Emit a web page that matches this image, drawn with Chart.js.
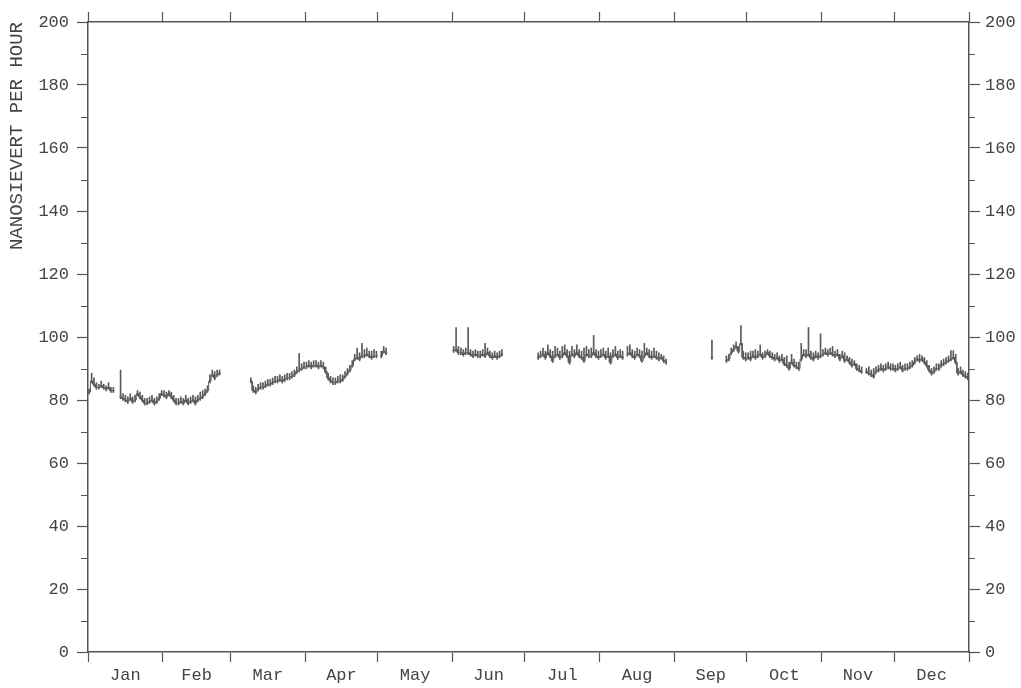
<!DOCTYPE html>
<html>
<head>
<meta charset="utf-8">
<script src="https://cdn.jsdelivr.net/npm/chart.js@4.4.1/dist/chart.umd.min.js"></script>
<style>
  html, body { margin: 0; padding: 0; background: #fff; }
</style>
</head>
<body>
<canvas id="grafico" width="1021" height="688"></canvas>
<script>
// month labels and month boundaries (day of year)
const monthNames = ['Jan', 'Feb', 'Mar', 'Apr', 'May', 'Jun', 'Jul', 'Aug', 'Sep', 'Oct', 'Nov', 'Dec'];
const monthStarts = [0, 31, 59, 90, 120, 151, 181, 212, 243, 273, 304, 334, 365];
const yTicks = [0, 20, 40, 60, 80, 100, 120, 140, 160, 180, 200];

// daily level (nSv/h), null = no data
const janLevel = [82.5, 86, 85, 84, 84, 84.5, 84, 83.5, 84, 83, 83, null, null, 81, 80.5, 80, 79.5, 80.5, 79.5, 80, 82, 81, 80, 79, 79, 79.5, 80, 79, 79.5, 80.5, 82];
const febLevel = [81.5, 81, 82, 81, 80, 79, 79, 79.5, 79, 80, 79, 79.5, 80, 79, 80, 80.5, 81, 82, 83, 86, 88, 87, 88, 88.5, null, null, null, null];
const marLevel = [null, null, null, null, null, null, null, null, 86, 83, 82.5, 83.5, 84, 84, 84.5, 85, 85, 85.5, 86, 86, 86.5, 86, 86.5, 87, 87, 87.5, 88, 89, 89.5, 90, 90.5];
const aprLevel = [90.5, 91, 90.5, 91, 91, 90.5, 91, 90.5, 89, 87, 86, 85.5, 85.5, 86, 86, 86.5, 87.5, 88.5, 89.5, 91, 93, 93.5, 93, 94, 94, 94.5, 94, 93.5, 94, 94];
const mayLevel = [null, 94, 95.5, 95, null, null, null, null, null, null, null, null, null, null, null, null, null, null, null, null, null, null, null, null, null, null, null, null, null, null, null];
const junLevel = [95.7, 96, 95, 95, 94.5, 95, 95, 94.5, 94, 94.5, 94, 94, 94.5, 94, 95, 94, 93.5, 94, 93.5, 94, 94.5, null, null, null, null, null, null, null, null, null];
const julLevel = [null, null, null, null, null, 93.5, 94, 94.5, 93.5, 95, 94, 92.5, 94, 94.5, 93.5, 94, 95, 94, 92, 94.5, 94, 95, 94, 93.5, 92.5, 94.5, 94, 94, 95, 94, 93.5];
const augLevel = [94, 94.5, 93.5, 94, 92, 94, 94.5, 93.5, 94, 93.5, null, 94.5, 95, 94, 93.5, 94.5, 94, 92.5, 94, 95, 94, 93.5, 94, 93.5, 93, 93.5, 92.5, 92, null, null, null];
const sepLevel = [null, null, null, null, null, null, null, null, null, null, null, null, null, null, null, 93.5, null, null, null, null, null, 92.5, 93, 95, 96, 97, 95.5, 98, 93.5, 93];
const octLevel = [93.5, 93, 94, 93.5, 94, 94.5, 93.5, 94, 95, 94, 93.5, 93, 93.5, 92.5, 93, 91.5, 91, 90, 92, 91, 90.5, 90, 93, 94.5, 94, 94.5, 93.5, 93, 94, 93.5, 94];
const novLevel = [94.5, 95, 94.5, 95, 94.5, 94, 94.5, 93, 94, 92.5, 93, 92, 91, 91.5, 90, 89.5, 89, null, 89, 88.5, 88, 87.5, 89, 89.5, 90, 89.5, 90, 90.5, 90, 90];
const decLevel = [89.5, 90, 90.5, 89.5, 90, 90, 90.5, 91, 92, 93, 92.5, 93, 92, 91, 89.5, 88.5, 89, 90, 90, 91, 91.5, 92, 92.5, 93, 93.5, 92, 88.5, 89, 88, 87.5, 87];

// daily maximum
const janHigh = [83.5, 88.5, 87, 85.5, 85, 86, 85, 84.5, 85.5, 84, 84, null, null, 89.5, 82, 81.5, 81, 82, 81, 81.5, 83, 82.5, 81.5, 80.5, 80.5, 81, 81.5, 80.5, 81, 82, 83];
const febHigh = [83, 82.5, 83, 82.5, 81.5, 80.5, 80.5, 81, 80.5, 81.5, 80.5, 81, 81.5, 81, 81.5, 82.5, 83, 83.5, 84.5, 88, 89.5, 89, 89.5, 89.5, null, null, null, null];
const marHigh = [null, null, null, null, null, null, null, null, 87, 84.5, 84, 85, 85.5, 85.5, 86, 86.5, 86.5, 87, 87.5, 87.5, 88, 87.5, 88, 88.5, 88.5, 89, 89.5, 90.5, 94.8, 91.5, 92];
const aprHigh = [92, 92.5, 92, 92.5, 92.5, 92, 92.5, 92, 90.5, 88.5, 87.5, 87, 87, 87.5, 88, 88, 89, 90, 91, 92.5, 94.5, 96.5, 95, 98, 96, 96.5, 95.5, 95.5, 96, 95.5];
const mayHigh = [null, 95.5, 97, 96.5, null, null, null, null, null, null, null, null, null, null, null, null, null, null, null, null, null, null, null, null, null, null, null, null, null, null, null];
const junHigh = [97, 103, 97, 96.5, 96, 96.5, 103, 96, 95.5, 96, 95.5, 95.5, 96, 98, 96.5, 95.5, 95, 95.5, 95, 95.5, 96, null, null, null, null, null, null, null, null, null];
const julHigh = [null, null, null, null, null, 95, 95.5, 96.5, 95.5, 97.5, 96, 95.5, 97, 96.5, 95.5, 97, 97.5, 96, 95.5, 97, 96, 97.5, 96, 95.5, 96.5, 97, 96, 96.5, 100.5, 96, 95.5];
const augHigh = [96, 96.5, 95.5, 96.5, 95, 96, 97, 95.5, 96, 95.5, null, 97, 97.5, 96, 95.5, 96.5, 96, 95.5, 98, 96.5, 96, 95.5, 96.5, 95.5, 95, 94.5, 94, 93, null, null, null];
const sepHigh = [null, null, null, null, null, null, null, null, null, null, null, null, null, null, null, 99, null, null, null, null, null, 94, 94.5, 96.5, 97.5, 98.5, 97, 103.6, 95.5, 95];
const octHigh = [95, 95.5, 95.5, 96, 95.5, 97.5, 95, 95.5, 96, 95.5, 95, 94.5, 95, 94, 94.5, 93.5, 94, 92, 94.5, 93, 92, 92, 98, 96, 96, 103, 95.5, 95, 95.5, 95, 101];
const novHigh = [96, 96.5, 96, 96.5, 97, 95.5, 96, 94.5, 95.5, 95, 94, 93.5, 93, 92.5, 91.5, 91, 90.5, null, 90, 90.5, 89.5, 90, 90.5, 91, 91.5, 91, 91.5, 92, 91.5, 91.5];
const decHigh = [91, 91.5, 92, 91, 91.5, 91.5, 92, 92.5, 93.5, 94, 94.5, 94, 93.5, 92.5, 91, 90, 90.5, 91.5, 91.5, 92.5, 93, 93.5, 94, 95.7, 95.7, 94.5, 90, 90.5, 89.5, 89, 88.5];

const level = [].concat(janLevel, febLevel, marLevel, aprLevel, mayLevel, junLevel, julLevel, augLevel, sepLevel, octLevel, novLevel, decLevel);
const high = [].concat(janHigh, febHigh, marHigh, aprHigh, mayHigh, junHigh, julHigh, augHigh, sepHigh, octHigh, novHigh, decHigh);

// step line: each day holds its level for the whole day
const stepPts = [];
level.forEach((v, i) => {
    if (v === null) { stepPts.push({ x: i + 0.5, y: null }); return; }
    stepPts.push({ x: i, y: v }, { x: i + 1, y: v });
});
// vertical range bars from level up to daily max
const rangeBars = [];
high.forEach((h, i) => {
    if (h === null || level[i] === null) return;
    rangeBars.push({ x: i + 0.5, y: [level[i] - 0.6, h] });
});

// tick positions on the bottom axis: boundaries and month centres
const bottomTicks = [];
monthStarts.forEach((d, i) => {
    bottomTicks.push(d);
    if (i < 12) bottomTicks.push((d + monthStarts[i + 1]) / 2);
});

const FONT = "'Liberation Mono', 'DejaVu Sans Mono', monospace";
const AXIS = '#555';
const TEXT = '#444';
const INK = '#5a5a5a';

const minorTicks = {
    id: 'minorTicks',
    afterDraw(chart) {
        const { ctx, scales } = chart;
        const y = scales.y;
        const left = chart.chartArea.left, right = chart.chartArea.right;
        ctx.save();
        ctx.strokeStyle = AXIS;
        ctx.lineWidth = 1.2;
        for (let v = 10; v < 200; v += 20) {
            const py = Math.round(y.getPixelForValue(v)) + 0.5;
            ctx.beginPath();
            ctx.moveTo(left - 7, py); ctx.lineTo(left, py);
            ctx.moveTo(right, py); ctx.lineTo(right + 6, py);
            ctx.stroke();
        }
        ctx.restore();
    }
};

new Chart(document.getElementById('grafico'), {
    data: {
        datasets: [
            {
                type: 'line', data: stepPts, borderColor: INK, borderWidth: 1,
                pointRadius: 0, spanGaps: false, tension: 0, xAxisID: 'x', yAxisID: 'y'
            },
            {
                type: 'bar', data: rangeBars, backgroundColor: INK, borderWidth: 0,
                barThickness: 1, xAxisID: 'x', yAxisID: 'y'
            }
        ]
    },
    options: {
        responsive: false, devicePixelRatio: 1, animation: false,
        layout: { padding: 0 },
        plugins: { legend: { display: false }, tooltip: { enabled: false } },
        scales: {
            x: {
                type: 'linear', position: 'bottom', min: 0, max: 365, offset: false,
                afterBuildTicks: s => { s.ticks = bottomTicks.map(v => ({ value: v })); },
                ticks: {
                    autoSkip: false, maxRotation: 0, padding: 3, color: TEXT,
                    font: { family: FONT, size: 17 },
                    callback: (v, i) => (i % 2 === 1 ? monthNames[(i - 1) / 2] : '')
                },
                grid: {
                    offset: false, drawOnChartArea: false, tickLength: 10, tickWidth: 1.2,
                    tickColor: c => (c.index % 2 === 1 ? 'transparent' : AXIS)
                },
                border: { color: AXIS, width: 1.5 },
                afterFit: s => { s.height = 36; }
            },
            x2: {
                type: 'linear', position: 'top', min: 0, max: 365, offset: false,
                afterBuildTicks: s => { s.ticks = monthStarts.map(v => ({ value: v })); },
                ticks: { display: false },
                grid: { offset: false, drawOnChartArea: false, tickLength: 10, tickWidth: 1.2, tickColor: AXIS },
                border: { color: AXIS, width: 1.5 },
                afterFit: s => { s.height = 22; }
            },
            y: {
                type: 'linear', position: 'left', min: 0, max: 200,
                afterBuildTicks: s => { s.ticks = yTicks.map(v => ({ value: v })); },
                ticks: { padding: 8, color: TEXT, font: { family: FONT, size: 17 } },
                grid: { drawOnChartArea: false, tickLength: 11, tickWidth: 1.2, tickColor: AXIS },
                border: { color: AXIS, width: 1.5 },
                title: {
                    display: true, text: 'NANOSIEVERT PER HOUR', align: 'end', color: TEXT,
                    font: { family: FONT, size: 19 }, padding: { top: 6, bottom: 0 }
                },
                afterFit: s => { s.width = 88; }
            },
            y2: {
                type: 'linear', position: 'right', min: 0, max: 200,
                afterBuildTicks: s => { s.ticks = yTicks.map(v => ({ value: v })); },
                ticks: { padding: 5, color: TEXT, font: { family: FONT, size: 17 } },
                grid: { drawOnChartArea: false, tickLength: 11, tickWidth: 1.2, tickColor: AXIS },
                border: { color: AXIS, width: 1.5 },
                afterFit: s => { s.width = 52; }
            }
        }
    },
    plugins: [minorTicks]
});
</script>
</body>
</html>
